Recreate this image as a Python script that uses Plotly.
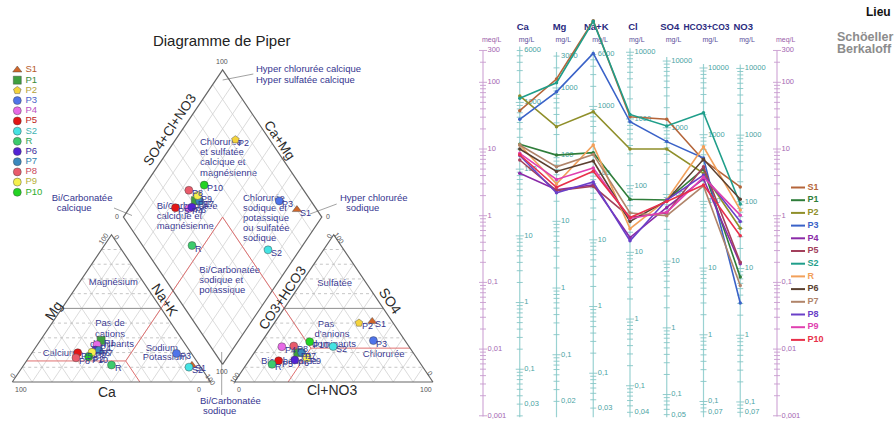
import math
import plotly.graph_objects as go

W, H = 896, 421
FONT = "Liberation Sans, Arial, Helvetica, sans-serif"
NAVY = "#35358f"

# ---------------- data (meq/L) ----------------
samples = ["S1", "P1", "P2", "P3", "P4", "P5", "S2", "R", "P6", "P7", "P8", "P9", "P10"]
ca   = [37.5, 11.8, 62.5, 27.9, 4.32, 6.84, 57.6, 11.5, 10.0, 11.5, 8.0, 8.6, 8.2]
mg   = [112.0, 8.1, 21.6, 72.0, 2.45, 2.38, 98.5, 3.0, 4.6, 5.4, 2.2, 3.5, 2.67]
nak  = [840.0, 8.8, 36.3, 271.0, 2.9, 2.76, 820.0, 11.5, 6.6, 8.3, 3.2, 5.2, 4.63]
cl   = [30.5, 1.76, 10.0, 25.6, 0.47, 0.95, 33.0, 0.64, 0.82, 1.1, 0.42, 0.91, 0.94]
so4  = [28.0, 1.72, 10.0, 12.9, 1.33, 1.1, 22.1, 1.73, 1.68, 1.0, 1.72, 1.13, 1.63]
hco3 = [6.8, 5.0, 4.3, 7.3, 3.56, 5.4, 35.0, 10.8, 7.0, 2.8, 4.07, 3.78, 2.88]
no3  = [2.7, 0.12, 0.65, 0.049, 0.19, 0.2, 1.5, 1.22, 1.76, 0.09, 0.82, 1.02, 0.50]

ion_names = ["Ca", "Mg", "Na+K", "Cl", "SO4", "HCO3+CO3", "NO3"]
header_sizes = [9.5, 9.5, 9.5, 9.5, 9.5, 8.5, 9.5]
equiv_weight = [20.04, 12.15, 23.0, 35.45, 48.03, 61.02, 62.0]
tick_ca = [6000, 1000, 100, 10, 1, 0.1, 0.03]
tick_mg = [3000, 1000, 100, 10, 1, 0.1, 0.02]
tick_nak = [6000, 1000, 100, 10, 1, 0.1, 0.03]
tick_cl = [10000, 1000, 100, 10, 1, 0.1, 0.04]
tick_so4 = [10000, 1000, 100, 10, 1, 0.1, 0.05]
tick_hco3 = [10000, 1000, 100, 10, 1, 0.1, 0.07]
tick_no3 = [10000, 1000, 100, 10, 1, 0.1, 0.07]
meq_ticks = [300, 100, 10, 1, 0.1, 0.01, 0.001]

piper_colors = ["#d0662a", "#3f9f3f", "#f4d33c", "#4f74ea", "#e76ae6", "#e31515", "#45e3e3",
                "#3ccb6d", "#5222d4", "#3a88bd", "#e95b6b", "#f5f04c", "#23d323"]
piper_text_colors = ["#b65a2c", "#3a8a3a", "#b3a23a", "#4a62c8", "#bb4fbf", "#c02323", "#3fb3b3",
                     "#2fa35c", "#3c2c9c", "#2f7fae", "#c9485a", "#b8b03a", "#2fae2f"]
piper_symbols = ["triangle-up", "square", "pentagon"] + ["circle"] * 10
sch_colors = ["#b5653a", "#2f7d3a", "#8f8f2a", "#3a62c8", "#8a2aa8", "#a3405c", "#1f9e8a",
              "#f2a05a", "#5a4030", "#b0846a", "#6a40c8", "#e040b0", "#e8304a"]

# ---------------- geometry ----------------
S3 = math.sqrt(3) / 2
G = 12.0
PX0, SX, PY0, SY = 12.3, 1.984, 382.0, 1.70          # piper units -> pixels
X0S, DXS, Y1S, DEC = 483.0, 36.75, 215.7, 66.7       # schoeller column / decade -> pixels

fig = go.Figure()


def tr(ax, **kw):
    fig.add_trace(go.Scatter(xaxis="x" + ax, yaxis="y" + ax, hoverinfo="skip",
                             showlegend=False, **kw))


def txt(ax, xs, ys, texts, size, color, pos="middle right", bold=False):
    if bold:
        texts = ["<b>%s</b>" % t for t in texts]
    tr(ax, x=xs, y=ys, mode="text", text=texts, textposition=pos, cliponaxis=False,
       textfont=dict(family=FONT, size=size, color=color))


def ann(text, x, y, ref="", size=9, color=NAVY, angle=0, xanchor="center",
        yanchor="middle", xshift=0, yshift=0):
    fig.add_annotation(text=text, x=x, y=y, xref="x" + ref, yref="y" + ref, showarrow=False,
                       textangle=angle, xanchor=xanchor, yanchor=yanchor,
                       xshift=xshift, yshift=yshift, borderpad=0,
                       font=dict(family=FONT, size=size, color=color))


def segs_xy(segs):
    xs, ys = [], []
    for p, q in segs:
        xs += [p[0], q[0], None]
        ys += [p[1], q[1], None]
    return xs, ys


def fmt(v):
    return ("%g" % v).replace(".", ",")


def cat_pt(mgp, nap):
    return (nap + mgp / 2.0, mgp * S3)


def an_pt(so4p, clp):
    return (100 + G + clp + so4p / 2.0, so4p * S3)


def dia_pt(c, a):
    t = ((a[1] - c[1]) / S3 + 2 * (a[0] - c[0])) / 2.0
    return (c[0] + 0.5 * t, c[1] + S3 * t)


def lerp(p, q, f):
    return (p[0] + (q[0] - p[0]) * f, p[1] + (q[1] - p[1]) * f)


DB = (100 + G / 2, G * S3)
DL = (50 + G / 2, (100 + G) * S3)
DT = (100 + G / 2, (200 + G) * S3)
DR = (150 + G / 2, (100 + G) * S3)
DC = (100 + G / 2, (100 + G) * S3)

# ---------------- overlay (pixel) layer: texts under the marks ----------------
txt("", [221.7], [42.7], ["Diagramme de Piper"], 15, "#222", pos="middle center")

zone_left = [
    ("Chlorurée", 200, 142.3), ("et sulfatée", 200, 152.7), ("calcique et", 200, 163),
    ("magnésienne", 200, 173.3),
    ("Bi/Carbonatée", 156.7, 206.7), ("calcique et", 156.7, 216.7), ("magnésienne", 156.7, 226.7),
    ("Chlorurée", 243, 198.3), ("sodique et", 243, 208.7), ("potassique", 243, 218.7),
    ("ou sulfatée", 243, 229), ("sodique", 243, 239),
    ("Bi/Carbonatée", 199.3, 271), ("sodique et", 199.3, 281), ("potassique", 199.3, 291),
    ("Calcium", 42.7, 353.3), ("Sodium", 145.7, 349), ("Potassium", 142.7, 357.3),
    ("Bicarbonatée", 261, 361.7),
    ("Hyper chlorurée calcique", 256, 70), ("Hyper sulfatée calcique", 256, 80.3),
    ("Bi/Carbonatée", 51.7, 199), ("calcique", 56.7, 209),
    ("Hyper chlorurée", 340, 199), ("sodique", 346, 209),
    ("Bi/Carbonatée", 200, 401.7), ("sodique", 203, 411.7),
]
zone_center = [
    ("Magnésium", 113.3, 282.3), ("Pas de", 110, 324), ("cations", 110, 334.3),
    ("dominants", 112, 344.3), ("Sulfatée", 334.7, 284), ("Pas", 326, 324.3),
    ("d'anions", 332, 334.3), ("dominants", 334, 344.3), ("Chlorurée", 383.7, 355),
]
txt("", [z[1] for z in zone_left], [z[2] for z in zone_left], [z[0] for z in zone_left],
    9.5, NAVY)
txt("", [z[1] for z in zone_center], [z[2] for z in zone_center], [z[0] for z in zone_center],
    9.5, NAVY, pos="middle center")

leaders = [((222.7, 80), (253.3, 74)), ((114, 208), (132, 215.5)),
           ((310, 214), (336.7, 204)), ((221.7, 352), (221.7, 395))]
lx, ly = segs_xy(leaders)
tr("", x=lx, y=ly, mode="lines", line=dict(color="#8a8a8a", width=0.8))

# piper legend
n = len(samples)
leg_y = [70 + 10.19 * i for i in range(n)]
for i in range(n):
    tr("", x=[17.3], y=[leg_y[i]], mode="markers",
       marker=dict(symbol=piper_symbols[i], size=8, color=piper_colors[i],
                   line=dict(color="rgba(60,60,60,0.7)", width=0.6)))
for i in range(n):
    txt("", [25.5], [leg_y[i]], [samples[i]], 9.5, piper_text_colors[i])

# schoeller header texts
col_px = [X0S + DXS * k for k in range(9)]
for k in range(7):
    txt("", [col_px[k + 1] + 3], [28], [ion_names[k]], header_sizes[k], "#2b2b80",
        pos="middle center", bold=True)
txt("", [col_px[0] - 1, col_px[8] - 1], [40, 40], ["meq/L", "meq/L"], 7, "#9a5aa8")
txt("", [col_px[k + 1] - 1 for k in range(7)], [40] * 7, ["mg/L"] * 7, 7, "#5a4e9a")
txt("", [866], [13], ["Lieu"], 12, "#111", bold=True)
txt("", [837, 837], [37.7, 49.8], ["Schöeller", "Berkaloff"], 12.5, "#8c8c8c", bold=True)

# schoeller legend
sl_y = [187.5 + 12.7 * i for i in range(n)]
for i in range(n):
    tr("", x=[791, 805], y=[sl_y[i], sl_y[i]], mode="lines",
       line=dict(color=sch_colors[i], width=2))
    txt("", [807.5], [sl_y[i]], [samples[i]], 9, sch_colors[i], bold=True)

# ---------------- Piper (axes x2/y2) ----------------
levels = [10, 20, 30, 40, 50, 60, 70, 80, 90]
solid, dotted, half = [], [], []
for l in levels:
    h = (cat_pt(l, 0), cat_pt(l, 100 - l))
    (half if l == 50 else dotted).append(h)
    solid.append((cat_pt(0, l), cat_pt(100 - l, l)))
    solid.append((cat_pt(0, 100 - l), cat_pt(100 - l, 0)))
    h = (an_pt(l, 0), an_pt(l, 100 - l))
    (half if l == 50 else dotted).append(h)
    solid.append((an_pt(0, l), an_pt(100 - l, l)))
    solid.append((an_pt(0, 100 - l), an_pt(100 - l, 0)))
    f = l / 100.0
    solid.append((lerp(DL, DB, f), lerp(DT, DR, f)))
    solid.append((lerp(DB, DR, f), lerp(DL, DT, f)))
gx, gy = segs_xy(solid)
tr("2", x=gx, y=gy, mode="lines", line=dict(color="#d2d2d2", width=0.8))
gx, gy = segs_xy(dotted)
tr("2", x=gx, y=gy, mode="lines", line=dict(color="#b8b8b8", width=0.8, dash="dot"))
gx, gy = segs_xy(half)
tr("2", x=gx, y=gy, mode="lines", line=dict(color="#8f8f8f", width=1))

# classification lines (red)
RED_MG, RED_SO4 = 14.3, 23.0
lj = cat_pt(RED_MG, 50)
rj = an_pt(RED_SO4, 50 - RED_SO4)
red = [(cat_pt(RED_MG, 0), lj), (lj, cat_pt(0, 50 + RED_MG)), (lj, DC),
       (an_pt(RED_SO4, 100 - RED_SO4), rj), (rj, an_pt(0, 50 - RED_SO4)), (rj, DC)]
gx, gy = segs_xy(red)
tr("2", x=gx, y=gy, mode="lines", line=dict(color="#e07070", width=1))

outl = [cat_pt(0, 0), cat_pt(0, 100), cat_pt(100, 0), cat_pt(0, 0), None,
        an_pt(0, 0), an_pt(0, 100), an_pt(100, 0), an_pt(0, 0), None,
        DB, DL, DT, DR, DB]
tr("2", x=[p[0] if p else None for p in outl], y=[p[1] if p else None for p in outl],
   mode="lines", line=dict(color="#666666", width=1.2))

pts = []
for i in range(n):
    ct = ca[i] + mg[i] + nak[i]
    at = cl[i] + no3[i] + so4[i] + hco3[i]
    c = cat_pt(100 * mg[i] / ct, 100 * nak[i] / ct)
    a = an_pt(100 * so4[i] / at, 100 * (cl[i] + no3[i]) / at)
    d = dia_pt(c, a)
    pts.append((c, a, d))
    tr("2", x=[c[0], a[0], d[0]], y=[c[1], a[1], d[1]], mode="markers",
       marker=dict(symbol=piper_symbols[i], size=8, color=piper_colors[i],
                   line=dict(color="rgba(60,60,60,0.7)", width=0.6)))
for i in range(n):
    for p in pts[i]:
        ann(samples[i], p[0], p[1], ref="2", size=9, xanchor="left", xshift=2, yshift=-3)

axis_titles = [("SO4+Cl+NO3", 169, 130, -56, 13.5), ("Ca+Mg", 280, 140, 56, 13.5),
               ("Mg", 53.3, 311, -56, 14), ("Na+K", 165, 300, 56, 14),
               ("Ca", 106.7, 391.7, 0, 14), ("CO3+HCO3", 282, 298.3, -56, 13.5),
               ("SO4", 390.3, 301, 56, 14), ("Cl+NO3", 332, 390, 0, 14)]
for t, x, y, a, s in axis_titles:
    ann(t, x, y, size=s, color="#2a2a2a", angle=a)
piper_ticks = [("100", 221.7, 61, 0), ("0", 117, 216.5, 0), ("0", 327.5, 216.5, 0),
               ("100", 103.3, 238, -56), ("0", 117, 237, 56), ("0", 12.7, 375.7, -56),
               ("100", 20.7, 389, 0), ("0", 199, 389, 0), ("100", 210.7, 379, 56),
               ("0", 328.7, 236, -56), ("100", 339.3, 238.3, 56), ("100", 235.3, 377.7, -56),
               ("0", 238.7, 389, 0), ("100", 426, 389, 0), ("0", 430.3, 373.3, 56),
               ("100", 221.7, 371.7, 0)]
for t, x, y, a in piper_ticks:
    ann(t, x, y, size=7, color="#555", angle=a)

# ---------------- Schoeller (axes x3/y3) ----------------
tick_lists = [tick_ca, tick_mg, tick_nak, tick_cl, tick_so4, tick_hco3, tick_no3]
axis_segs, tick_segs = [], []
for j in range(7):
    k = j + 1
    top = tick_lists[j][0] / equiv_weight[j]
    axis_segs.append(((k, 0.00095), (k, top * 1.15)))
    for d in range(-3, 5):
        for m in range(1, 10):
            v = m * 10 ** d / equiv_weight[j]
            if 0.00099 <= v <= top * 1.001:
                hl = (4.0 if m == 1 else 3.0) / DXS
                tick_segs.append(((k - hl, v), (k + hl, v)))
ax_x, ax_y = segs_xy(axis_segs)
tr("3", x=ax_x, y=ax_y, mode="lines", line=dict(color="#9ad2d2", width=1.2))
tx, ty = segs_xy(tick_segs)
tr("3", x=tx, y=ty, mode="lines", line=dict(color="#86c6c6", width=0.9))

maxis, mticks = [], []
for k in (0, 8):
    maxis.append(((k, 0.00098), (k, 300)))
    for d in range(-3, 3):
        for m in range(1, 10):
            v = m * 10 ** d
            if v <= 300.01:
                hl = (4.0 if (m == 1 or v == 300) else 3.0) / DXS
                mticks.append(((k - hl, v), (k + hl, v)))
mx, my = segs_xy(maxis)
tr("3", x=mx, y=my, mode="lines", line=dict(color="#d2aad8", width=1.2))
mx, my = segs_xy(mticks)
tr("3", x=mx, y=my, mode="lines", line=dict(color="#c79ccf", width=0.9))

off = 4.5 / DXS
lab_x, lab_y, lab_t = [], [], []
for j in range(7):
    for v in tick_lists[j]:
        lab_x.append(j + 1 + off)
        lab_y.append(v / equiv_weight[j])
        lab_t.append(fmt(v))
txt("3", lab_x, lab_y, lab_t, 7.5, "#4aa3a3")
txt("3", [off] * len(meq_ticks) + [8 + off] * len(meq_ticks), meq_ticks * 2,
    [fmt(v) for v in meq_ticks] * 2, 7.5, "#a468b2")

cols = list(range(1, 8))
for i in range(n):
    vals = [ca[i], mg[i], nak[i], cl[i], so4[i], hco3[i], no3[i]]
    tr("3", x=cols, y=vals, mode="lines+markers", line=dict(color=sch_colors[i], width=1.6),
       marker=dict(size=3.5, color=sch_colors[i]))

# ---------------- layout ----------------
hid = dict(visible=False, showgrid=False, zeroline=False, fixedrange=True)
fig.update_layout(
    width=W, height=H, autosize=False, margin=dict(l=0, r=0, t=0, b=0, pad=0),
    paper_bgcolor="white", plot_bgcolor="rgba(0,0,0,0)", showlegend=False,
    font=dict(family=FONT),
    xaxis=dict(hid, domain=[0, 1], range=[0, W], anchor="y"),
    yaxis=dict(hid, domain=[0, 1], range=[H, 0], anchor="x"),
    xaxis2=dict(hid, domain=[0, 0.5], range=[(0 - PX0) / SX, (448 - PX0) / SX], anchor="y2"),
    yaxis2=dict(hid, domain=[0, 1], range=[(PY0 - H) / SY, PY0 / SY], anchor="x2"),
    xaxis3=dict(hid, domain=[0.5, 1], range=[(448 - X0S) / DXS, (W - X0S) / DXS], anchor="y3"),
    yaxis3=dict(hid, domain=[0, 1], type="log", range=[(Y1S - H) / DEC, Y1S / DEC], anchor="x3"),
)
fig.write_html(
    "out.html",
    config={"displayModeBar": False},
    post_script="document.body.style.margin='0px';document.body.style.padding='0px';"
                "document.body.style.overflow='hidden';",
)
